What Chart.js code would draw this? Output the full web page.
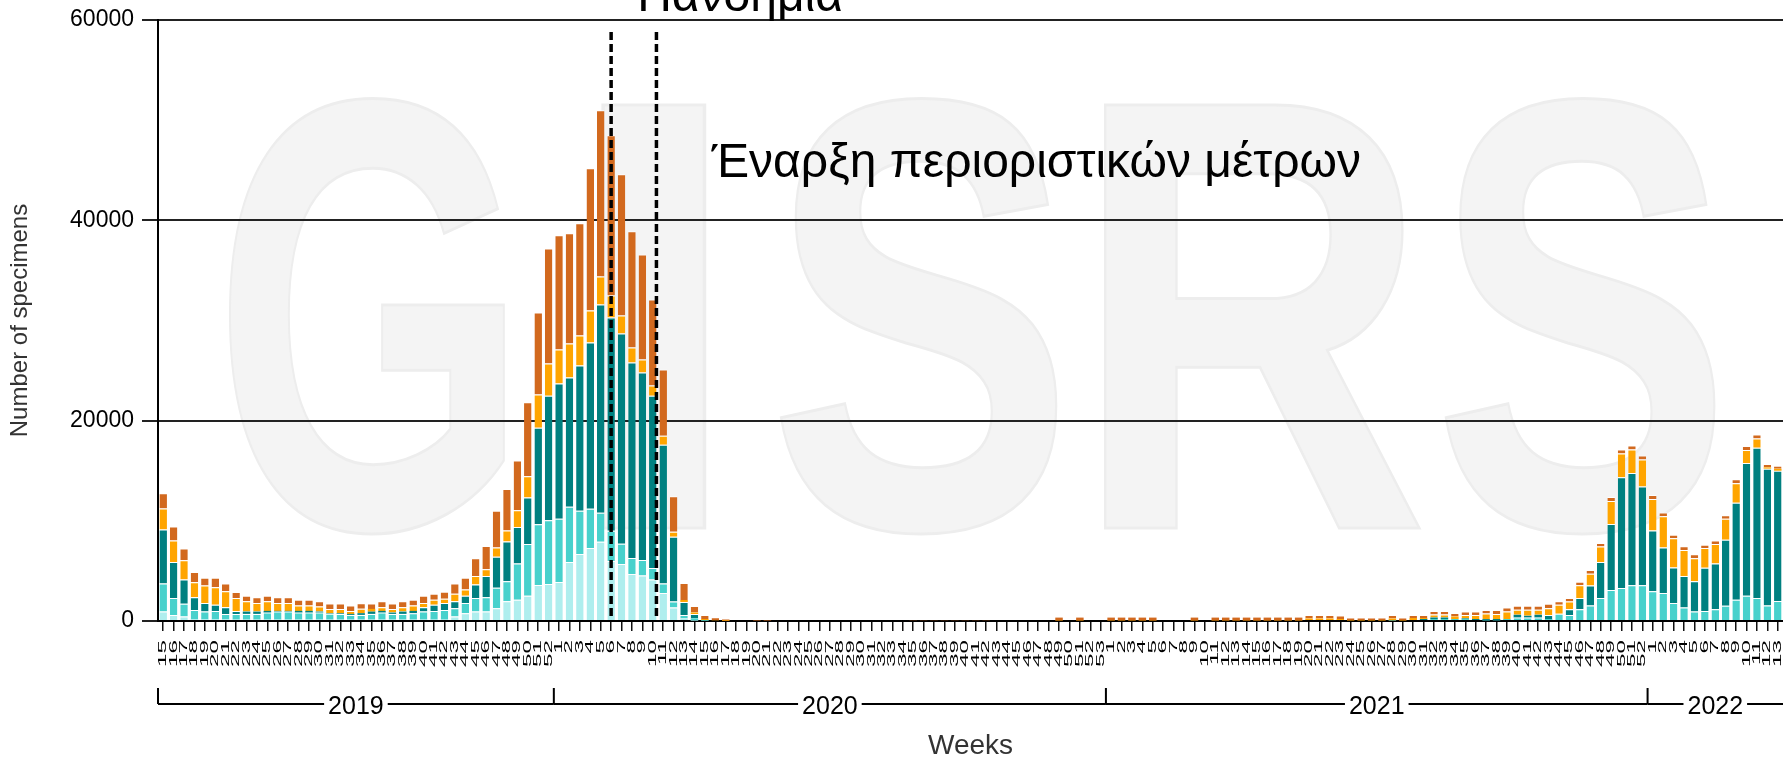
<!DOCTYPE html>
<html>
<head>
<meta charset="utf-8">
<script src="https://cdn.jsdelivr.net/npm/chart.js@4.4.1/dist/chart.umd.min.js"></script>
<style>
  html, body { margin: 0; padding: 0; background: #fff; overflow: hidden; }
  #wrap { width: 1783px; height: 760px; }
</style>
</head>
<body>
<div id="wrap"><canvas id="chart" width="1783" height="760"></canvas></div>
<script>
// ISO weeks shown on the axis
const years = ['2019', '2020', '2021', '2022'];
const weeks2019 = [15, 16, 17, 18, 19, 20, 21, 22, 23, 24, 25, 26, 27, 28, 29, 30, 31, 32, 33, 34,
  35, 36, 37, 38, 39, 40, 41, 42, 43, 44, 45, 46, 47, 48, 49, 50, 51, 52];
const weeks2020 = [1, 2, 3, 4, 5, 6, 7, 8, 9, 10, 11, 12, 13, 14, 15, 16, 17, 18, 19, 20,
  21, 22, 23, 24, 25, 26, 27, 28, 29, 30, 31, 32, 33, 34, 35, 36, 37, 38, 39, 40,
  41, 42, 43, 44, 45, 46, 47, 48, 49, 50, 51, 52, 53];
const weeks2021 = [1, 2, 3, 4, 5, 6, 7, 8, 9, 10, 11, 12, 13, 14, 15, 16, 17, 18, 19, 20,
  21, 22, 23, 24, 25, 26, 27, 28, 29, 30, 31, 32, 33, 34, 35, 36, 37, 38, 39, 40,
  41, 42, 43, 44, 45, 46, 47, 48, 49, 50, 51, 52];
const weeks2022 = [1, 2, 3, 4, 5, 6, 7, 8, 9, 10, 11, 12, 13];
const yearWeeks = [weeks2019, weeks2020, weeks2021, weeks2022];
const weekLabels = yearWeeks.flat().map(String);

// number of specimens per week, 10 weeks per line
const h1n1pdm = [
  // 2019 (w15-52)
  940, 610, 440, 200, 200, 200, 200, 130, 130, 130,
  130, 130, 130, 130, 130, 130, 130, 130, 130, 130,
  130, 130, 130, 130, 130, 130, 130, 130, 440, 780,
  940, 940, 1280, 1960, 2120, 2530, 3600, 3700,
  // 2020
  3900, 5900, 6700, 7300, 7900, 6000, 5700, 4700, 4550, 4150,
  2800, 1350, 270, 50, 0, 0, 0, 0, 0, 0,
  0, 0, 0, 0, 0, 0, 0, 0, 0, 0,
  0, 0, 0, 0, 0, 0, 0, 0, 0, 0,
  0, 0, 0, 0, 0, 0, 0, 0, 0, 0,
  0, 0, 0,
  // 2021
  0, 0, 0, 0, 0, 0, 0, 0, 0, 0,
  0, 0, 0, 0, 0, 0, 0, 0, 0, 0,
  0, 0, 0, 0, 0, 0, 0, 0, 0, 0,
  0, 0, 0, 0, 0, 0, 0, 0, 0, 0,
  0, 0, 0, 0, 0, 0, 0, 0, 0, 0,
  0, 0,
  // 2022
  0, 0, 0, 0, 0, 0, 0, 0, 0, 0,
  0, 0, 0
];
const h3 = [
  // 2019
  2800, 1680, 1280, 910, 740, 810, 510, 580, 580, 580,
  710, 810, 810, 710, 710, 710, 600, 570, 480, 480,
  580, 710, 580, 580, 650, 810, 880, 980, 840, 1010,
  1350, 1420, 2030, 2020, 3610, 5160, 6050, 6350,
  // 2020
  6300, 5500, 4300, 3900, 2900, 3000, 2000, 1600, 1550, 1150,
  950, 600, 330, 220, 30, 0, 0, 0, 0, 0,
  0, 0, 0, 0, 0, 0, 0, 0, 0, 0,
  0, 0, 0, 0, 0, 0, 0, 0, 0, 0,
  0, 0, 0, 0, 0, 0, 0, 0, 0, 0,
  0, 0, 0,
  // 2021
  0, 0, 0, 0, 0, 0, 0, 0, 0, 0,
  0, 0, 0, 0, 0, 0, 0, 0, 0, 0,
  0, 0, 0, 0, 0, 0, 0, 50, 0, 100,
  0, 200, 200, 200, 200, 0, 60, 70, 200, 350,
  350, 350, 200, 720, 600, 1180, 1550, 2290, 3100, 3300,
  3570, 3570,
  // 2022
  2970, 2800, 1790, 1350, 940, 1000, 1180, 1520, 2120, 2530,
  2290, 1550, 2000
];
const aNotSubtyped = [
  // 2019
  5400, 3610, 2430, 1250, 850, 610, 670, 300, 230, 230,
  170, 70, 70, 170, 170, 100, 50, 70, 100, 170,
  230, 170, 130, 230, 230, 440, 610, 680, 680, 740,
  1350, 2130, 3100, 3950, 3650, 4650, 9650, 12450,
  // 2020
  13500, 12900, 14500, 16600, 20800, 21300, 21000, 19500, 18700, 17200,
  13850, 6450, 1300, 430, 40, 0, 0, 0, 0, 0,
  0, 0, 0, 0, 0, 0, 0, 0, 0, 0,
  0, 0, 0, 0, 0, 0, 0, 0, 0, 0,
  0, 0, 0, 0, 0, 0, 0, 0, 0, 0,
  0, 0, 0,
  // 2021
  0, 0, 0, 0, 0, 0, 0, 0, 0, 0,
  0, 0, 0, 0, 0, 0, 0, 0, 0, 0,
  0, 0, 0, 0, 0, 0, 0, 0, 0, 0,
  200, 150, 150, 0, 60, 200, 130, 130, 0, 270,
  170, 270, 400, 0, 570, 1110, 1990, 3610, 6580, 11060,
  11200, 9850,
  // 2022
  6070, 4550, 3540, 3140, 3040, 4320, 4550, 6580, 9680, 13250,
  15000, 13660, 13000
];
const bVictoria = [
  // 2019
  2090, 2130, 1920, 1520, 1750, 1750, 1590, 1280, 1020, 850,
  950, 780, 780, 540, 540, 510, 430, 440, 300, 440,
  270, 370, 370, 440, 540, 410, 500, 440, 770, 610,
  850, 670, 940, 1110, 1680, 2100, 3300, 3200,
  // 2020
  3400, 3400, 3000, 3200, 2800, 2200, 1800, 1500, 1300, 1000,
  900, 500, 200, 150, 130, 70, 30, 0, 0, 0,
  0, 0, 0, 0, 0, 0, 0, 0, 0, 0,
  0, 0, 0, 0, 0, 0, 0, 0, 0, 0,
  0, 0, 0, 0, 0, 0, 0, 0, 60, 0,
  60, 0, 0,
  // 2021
  60, 60, 60, 60, 60, 0, 0, 0, 60, 0,
  60, 60, 60, 60, 60, 60, 60, 60, 60, 250,
  250, 250, 200, 50, 50, 50, 50, 200, 50, 200,
  100, 300, 300, 250, 340, 400, 570, 500, 740, 500,
  600, 500, 670, 900, 780, 1280, 1180, 1550, 2290, 2360,
  2360, 2700,
  // 2022
  3140, 3100, 2930, 2600, 2290, 1960, 1960, 2120, 1960, 1280,
  940, 130, 200
];
const bNotDetermined = [
  // 2019
  1520, 1410, 1180, 1010, 780, 950, 770, 610, 570, 570,
  570, 570, 570, 570, 570, 510, 540, 540, 540, 540,
  540, 580, 540, 580, 570, 740, 610, 700, 1010, 1180,
  1780, 2330, 3650, 4150, 4960, 7410, 8200, 11500,
  // 2020
  11400, 11000, 11200, 14200, 16600, 16000, 14100, 11600, 10500, 8600,
  6600, 3550, 1700, 650, 400, 300, 120, 100, 100, 50,
  50, 0, 0, 0, 0, 0, 0, 0, 0, 0,
  0, 0, 0, 0, 80, 80, 80, 80, 80, 80,
  80, 80, 100, 100, 100, 100, 100, 100, 280, 100,
  280, 100, 100,
  // 2021
  280, 280, 280, 280, 280, 100, 100, 100, 280, 100,
  280, 280, 280, 280, 280, 280, 280, 280, 280, 350,
  350, 350, 350, 300, 300, 300, 300, 350, 300, 300,
  300, 350, 350, 340, 340, 340, 340, 400, 400, 400,
  400, 400, 440, 340, 340, 340, 370, 340, 400, 400,
  400, 400,
  // 2022
  400, 370, 340, 370, 400, 340, 340, 340, 400, 400,
  400, 340, 300
];

const seriesNames = ['A(H1N1)pdm09', 'A(H3)', 'A (not subtyped)', 'B (Victoria)', 'B (lineage not determined)'];
const seriesData = [h1n1pdm, h3, aNotSubtyped, bVictoria, bNotDetermined];
const seriesColors = ['#afeeee', '#48d1cc', '#008080', '#ffa500', '#d2691e'];

// annotations: position as category index (2020 week 6, between 2020 weeks 10 and 11)
const events = [
  { at: weeks2019.length + 5, text: 'Πανδημία', dx: 26, y: 11 },
  { at: weeks2019.length + 9.35, text: 'Έναρξη περιοριστικών μέτρων', dx: 55, y: 177 }
];

const FONT = '"Liberation Sans", Arial, sans-serif';
Chart.defaults.font.family = FONT;
Chart.defaults.color = '#000';

// faint GISRS watermark behind the plot
const watermark = {
  id: 'watermark',
  beforeDraw(chart) {
    const ctx = chart.ctx;
    ctx.save();
    ctx.font = 'bold 615px ' + FONT;
    ctx.fillStyle = '#f4f4f4';
    ctx.strokeStyle = '#ededed';
    ctx.lineWidth = 3;
    ctx.textAlign = 'left';
    ctx.textBaseline = 'alphabetic';
    [['G', 226, 505], ['I', 600, 710], ['S', 775, 1062], ['R', 1103, 1420], ['S', 1440, 1720]].forEach(function (l) {
      const m = ctx.measureText(l[0]);
      const gw = m.actualBoundingBoxLeft + m.actualBoundingBoxRight;
      ctx.save();
      ctx.translate(l[1], 528);
      ctx.scale((l[2] - l[1]) / gw, 1);
      ctx.fillText(l[0], m.actualBoundingBoxLeft, 0);
      ctx.strokeText(l[0], m.actualBoundingBoxLeft, 0);
      ctx.restore();
    });
    ctx.restore();
  }
};

// dashed event lines + Greek labels
const eventLines = {
  id: 'eventLines',
  afterDatasetsDraw(chart) {
    const ctx = chart.ctx;
    const x = chart.scales.x;
    ctx.save();
    ctx.strokeStyle = '#000';
    ctx.lineWidth = 3.5;
    ctx.setLineDash([8, 4]);
    events.forEach(function (ev) {
      const px = x.getPixelForValue(ev.at);
      ctx.beginPath();
      ctx.moveTo(px, 32);
      ctx.lineTo(px, chart.chartArea.bottom);
      ctx.stroke();
    });
    ctx.setLineDash([]);
    ctx.fillStyle = '#000';
    ctx.font = '48px ' + FONT;
    ctx.textAlign = 'left';
    ctx.textBaseline = 'alphabetic';
    events.forEach(function (ev) {
      ctx.fillText(ev.text, x.getPixelForValue(ev.at) + ev.dx, ev.y);
    });
    ctx.restore();
  }
};

// rotated week numbers and the year brackets under them
const weekAxis = {
  id: 'weekAxis',
  afterDraw(chart) {
    const ctx = chart.ctx;
    const x = chart.scales.x;
    const half = (x.getPixelForValue(1) - x.getPixelForValue(0)) / 2;
    ctx.save();
    ctx.fillStyle = '#000';
    ctx.font = '11px ' + FONT;
    weekLabels.forEach(function (lab, i) {
      const px = x.getPixelForValue(i);
      ctx.save();
      ctx.translate(px, 640);
      ctx.rotate(-Math.PI / 2);
      ctx.scale(2.2, 1);
      ctx.textAlign = 'right';
      ctx.textBaseline = 'middle';
      ctx.fillText(lab, 0, 0);
      ctx.restore();
    });

    const lineY = 704, tickTop = 688;
    ctx.strokeStyle = '#000';
    ctx.lineWidth = 2;
    ctx.font = '25px ' + FONT;
    ctx.textAlign = 'center';
    ctx.textBaseline = 'middle';
    let start = 0;
    years.forEach(function (yr, i) {
      const n = yearWeeks[i].length;
      const x0 = x.getPixelForValue(start) - half;
      const x1 = Math.min(x.getPixelForValue(start + n - 1) + half, chart.width);
      const mid = (x0 + x1) / 2;
      const tw = ctx.measureText(yr).width / 2 + 4;
      ctx.beginPath();
      ctx.moveTo(x0, tickTop);
      ctx.lineTo(x0, lineY);
      ctx.moveTo(x0, lineY);
      ctx.lineTo(mid - tw, lineY);
      ctx.moveTo(mid + tw, lineY);
      ctx.lineTo(x1, lineY);
      ctx.stroke();
      ctx.fillText(yr, mid, lineY + 3);
      start += n;
    });
    ctx.restore();
  }
};

var chart = new Chart(document.getElementById('chart'), {
  type: 'bar',
  data: {
    labels: weekLabels,
    datasets: seriesData.map(function (d, i) {
      return {
        label: seriesNames[i],
        data: d,
        backgroundColor: seriesColors[i],
        borderColor: 'rgba(255,255,255,0.85)',
        borderWidth: function (c) { return c.raw >= 300 ? { top: 1, bottom: 0, left: 0, right: 0 } : 0; },
        borderSkipped: false,
        categoryPercentage: 1,
        barPercentage: 0.72
      };
    })
  },
  options: {
    responsive: false,
    animation: false,
    devicePixelRatio: 1,
    layout: { padding: { top: 20, left: 0, right: 0, bottom: 0 } },
    plugins: { legend: { display: false }, tooltip: { enabled: false } },
    scales: {
      x: {
        stacked: true,
        offset: true,
        grid: { display: true, drawOnChartArea: false, drawTicks: true, tickLength: 10, color: '#111', lineWidth: 1.5, offset: false },
        border: { display: true, color: '#000', width: 2 },
        ticks: { display: false, autoSkip: false },
        title: { display: true, text: 'Weeks', color: '#333', font: { size: 28, lineHeight: 1 }, padding: { top: 0, bottom: 0 } },
        afterFit: function (s) { s.height = 139; s.paddingLeft = 0; s.paddingRight = 0; }
      },
      y: {
        stacked: true,
        min: 0,
        max: 60000,
        ticks: { stepSize: 20000, font: { size: 23 }, color: '#000', padding: 8, callback: function (v) { return String(v); } },
        grid: { color: '#222', lineWidth: 2, tickLength: 16 },
        border: { display: true, color: '#000', width: 2 },
        title: { display: true, text: 'Number of specimens', color: '#333', font: { size: 24, lineHeight: 1 }, padding: { top: 8, bottom: 0 } },
        afterFit: function (s) { s.width = 158; s.paddingTop = 0; s.paddingBottom = 0; }
      }
    }
  },
  plugins: [watermark, eventLines, weekAxis]
});
</script>
</body>
</html>
